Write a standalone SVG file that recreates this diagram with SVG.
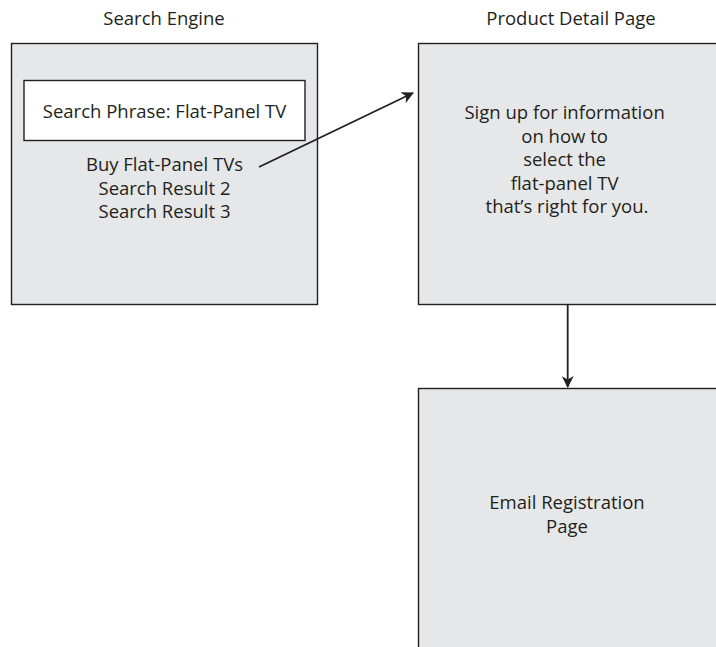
<svg xmlns="http://www.w3.org/2000/svg" width="716" height="647" viewBox="0 0 716 647">
<defs>
<style>
.box{fill:#e6e7e8;stroke:#231f20;stroke-width:1.4}
.inner{fill:#ffffff;stroke:#231f20;stroke-width:1.4}
.t{font-family:"Open Sans","Liberation Sans",sans-serif;font-size:18.5px;fill:#231f20;text-anchor:middle}
.c{stroke:#231f20;stroke-width:1.8;fill:none}
</style>
<marker id="ah" markerWidth="12" markerHeight="12" refX="11" refY="6" orient="auto" markerUnits="userSpaceOnUse" viewBox="0 0 12 12">
<path d="M0,0 L12,6 L0,12 L3.5,6 Z" fill="#231f20"/>
</marker>
</defs>
<rect width="716" height="647" fill="#ffffff"/>
<g id="search-engine">
<text class="t" x="164" y="25">Search Engine</text>
<rect class="box" x="11.5" y="43.5" width="306" height="261"/>
<rect class="inner" x="24" y="80.5" width="281" height="60"/>
<text class="t" x="164.5" y="118">Search Phrase: Flat-Panel TV</text>
<text class="t" x="164.5" y="171">Buy Flat-Panel TVs</text>
<text class="t" x="164.5" y="194.5">Search Result 2</text>
<text class="t" x="164.5" y="218">Search Result 3</text>
</g>
<g id="product-detail">
<text class="t" x="571" y="25">Product Detail Page</text>
<rect class="box" x="418.5" y="43.5" width="310" height="261"/>
<text class="t" x="567">
<tspan x="567" y="119">Sign up for information</tspan>
<tspan x="567" y="142.5">on how to</tspan>
<tspan x="567" y="166">select the</tspan>
<tspan x="567" y="189.5">flat-panel TV</tspan>
<tspan x="567" y="213">that’s right for you.</tspan>
</text>
</g>
<g id="email-registration">
<rect class="box" x="418.5" y="388.5" width="310" height="270"/>
<text class="t" x="567" y="509">Email Registration</text>
<text class="t" x="567" y="533">Page</text>
</g>
<g id="connectors">
<line class="c" x1="259" y1="167" x2="413" y2="93" marker-end="url(#ah)"/>
<line class="c" x1="567.7" y1="304.5" x2="567.7" y2="387" marker-end="url(#ah)"/>
</g>
</svg>
